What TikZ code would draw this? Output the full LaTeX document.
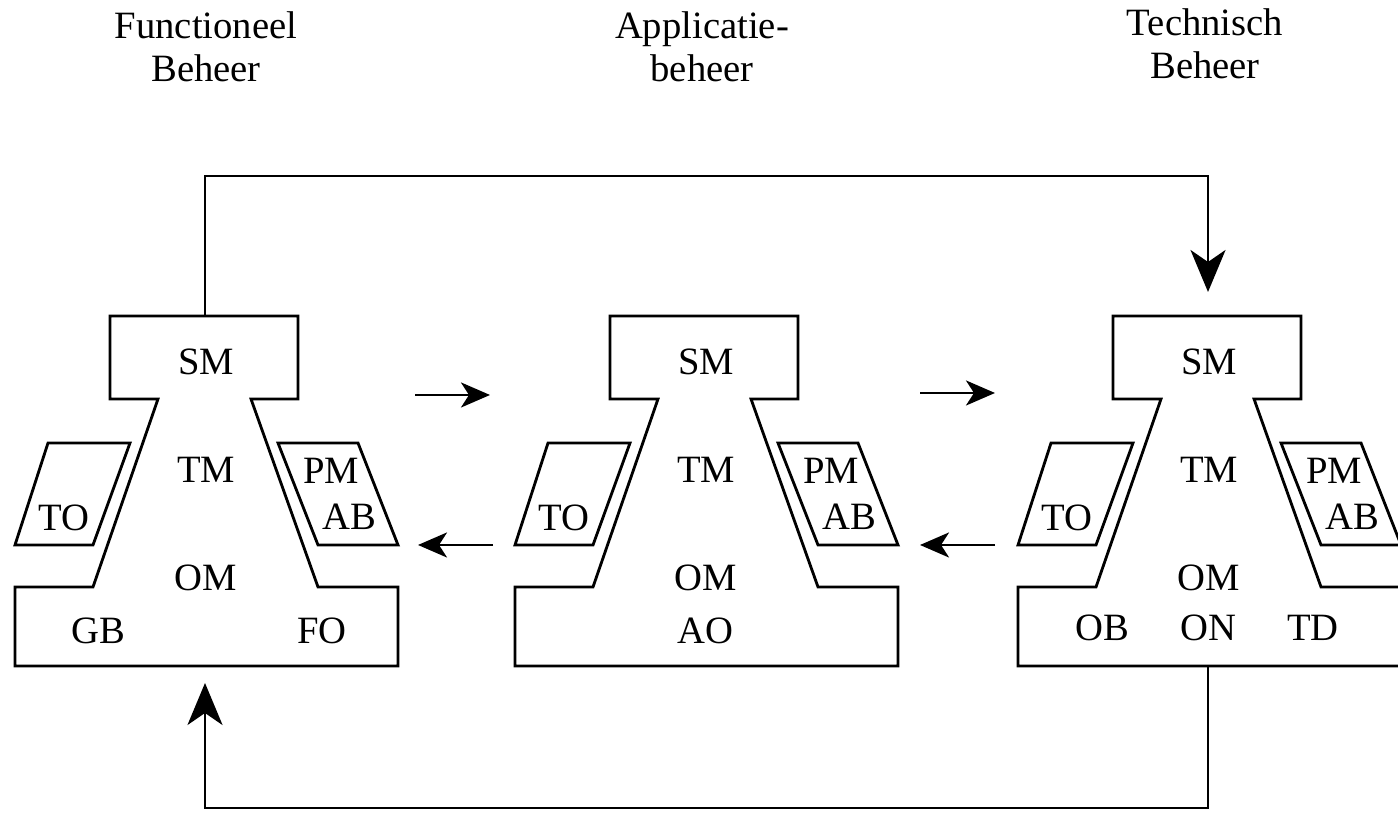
\documentclass[tikz,border=0pt]{standalone}
\usepackage{fontspec}
\setmainfont{Liberation Serif}
\usetikzlibrary{arrows.meta,calc}

\begin{document}
\begin{tikzpicture}[line width=0.8pt,
	every node/.style={font=\fontsize{11}{12.2}\selectfont, inner sep=0pt},
	bigtip/.style={line width=0.7pt, -{Stealth[length=4.2mm,width=3.5mm,inset=1.2mm]}},
	smalltip/.style={line width=0.8pt, -{Stealth[length=2.9mm,width=2.5mm,inset=0.8mm]}}]
\useasboundingbox (0,0) rectangle (13.98,8.15);

% de drie beheervormen
\foreach \x/\n in {0/f,5/a,10.03/t}{
	\begin{scope}[shift={(\x,0)}]
	\draw (1.10,4.99)--(2.98,4.99)--(2.98,4.16)--(2.51,4.16)--(3.18,2.28)--(3.98,2.28)--(3.98,1.49)--(0.15,1.49)--(0.15,2.28)--(0.93,2.28)--(1.58,4.16)--(1.10,4.16)--cycle;
	\draw (0.48,3.72)--(1.30,3.72)--(0.93,2.70)--(0.15,2.70)--cycle;
	\draw (2.78,3.72)--(3.58,3.72)--(3.98,2.70)--(3.18,2.70)--cycle;
	\node (sm\n) at (2.06,4.53) {SM};
	\node (tm\n) at (2.06,3.45) {TM};
	\node (om\n) at (2.06,2.37) {OM};
	\node (to\n) at (0.64,2.97) {TO};
	\node (pm\n) at (3.31,3.44) {PM};
	\node (ab\n) at (3.49,2.98) {AB};
	\coordinate (top\n) at (2.05,4.99);
	\coordinate (bot\n) at (2.05,1.49);
	\end{scope}
}

\node (gbf) at (0.98,1.84) {GB};
\node (fof) at (3.22,1.84) {FO};
\node (aoa) at (7.05,1.84) {AO};
\node (obt) at (11.02,1.87) {OB};
\node (ont) at (12.08,1.87) {ON};
\node (tdt) at (13.13,1.87) {TD};

\node[align=center] (kopf) at (2.06,7.68) {Functioneel\\Beheer};
\node[align=center] (kopa) at (7.02,7.68) {Applicatie-\\beheer};
\node[align=center] (kopt) at (12.05,7.71) {Technisch\\Beheer};

% terugkoppeling
\coordinate (tipt) at ($(topt)+(0,0.24)$);
\coordinate (tipf) at ($(botf)+(0,-0.17)$);
\draw[bigtip] (topf)--++(0,1.40)-|(tipt);
\draw[bigtip] (bott)--++(0,-1.42)-|(tipf);

% pijltjes tussen de vormen
\coordinate (h1) at (4.15,4.20);
\coordinate (h2) at (4.90,4.20);
\coordinate (h3) at (9.20,4.22);
\coordinate (h4) at (9.95,4.22);
\coordinate (t1) at (4.93,2.70);
\coordinate (t2) at (4.18,2.70);
\coordinate (t3) at (9.95,2.70);
\coordinate (t4) at (9.20,2.70);
\draw[smalltip] (h1)--(h2);
\draw[smalltip] (h3)--(h4);
\draw[smalltip] (t1)--(t2);
\draw[smalltip] (t3)--(t4);
\end{tikzpicture}
\end{document}
